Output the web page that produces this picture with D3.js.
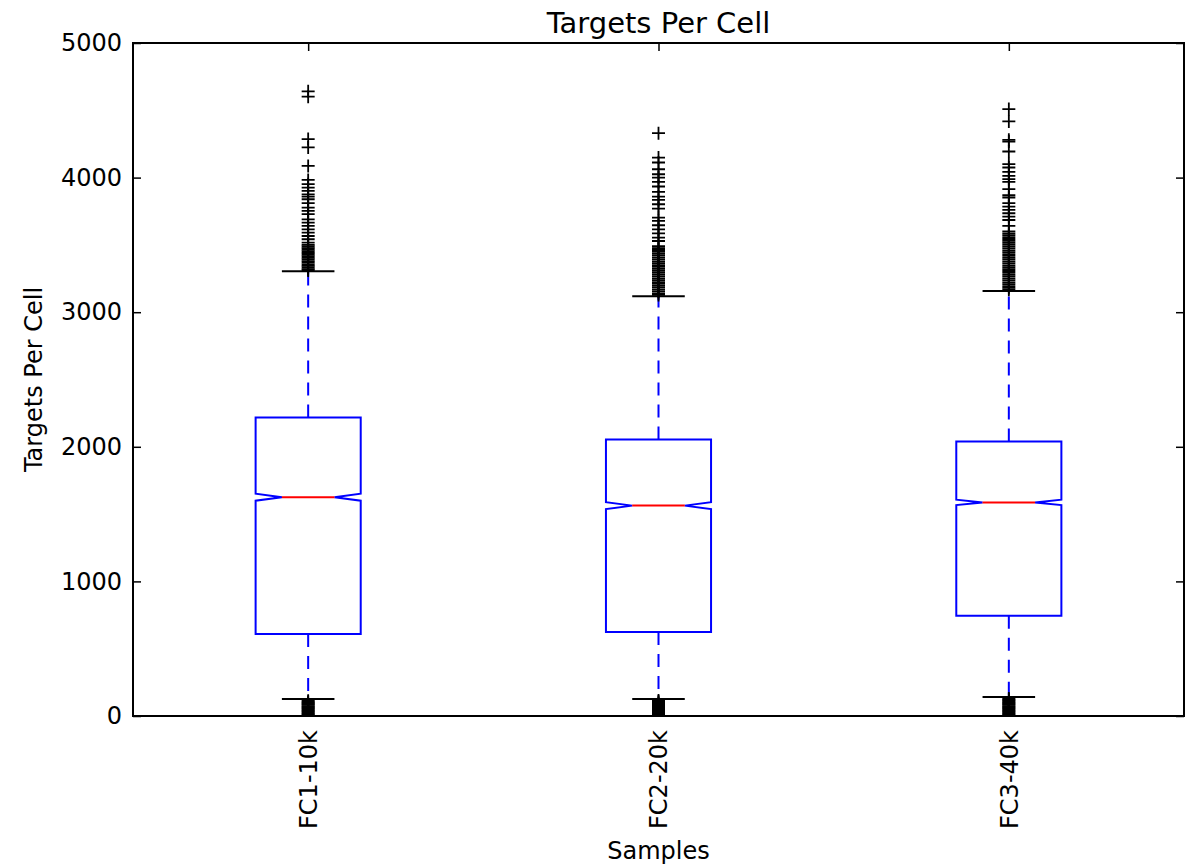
<!DOCTYPE html>
<html>
<head>
<meta charset="utf-8">
<script src="https://cdn.jsdelivr.net/npm/d3@7"></script>
<style>
  body { margin: 0; background: #fff; }
  text { font-family: "DejaVu Sans", sans-serif; fill: #000; }
</style>
</head>
<body>
<div id="chart"></div>
<script>
// samples on the x axis
var samples = ["FC1-10k", "FC2-20k", "FC3-40k"];

// box stats per sample
var whiskerLow = [126, 126, 141];
var q1 = [610, 625, 744];
var median = [1626, 1563, 1587];
var q3 = [2217, 2054, 2039];
var whiskerHigh = [3304, 3118, 3157];
var notchLow = [1600, 1537, 1567];
var notchHigh = [1652, 1589, 1607];

// fliers above the upper whisker
var fliersHigh = [
  [4641, 4601, 4286, 4224, 4087, 3983, 3951, 3926, 3901, 3876, 3859, 3839, 3810, 3777, 3753,
   3728, 3690, 3666, 3641, 3616, 3591, 3566, 3542, 3517, 3500, 3488, 3476, 3464, 3452, 3440,
   3428, 3416, 3404, 3392, 3380, 3368, 3356, 3344, 3332, 3320, 3310],
  [4330, 4149, 4112, 4062, 4025, 4000, 3968, 3934, 3894, 3859, 3834, 3802, 3770, 3703, 3678,
   3646, 3616, 3586, 3554, 3529, 3490, 3476, 3462, 3448, 3434, 3420, 3406, 3392, 3378, 3364,
   3350, 3336, 3322, 3308, 3294, 3280, 3266, 3252, 3238, 3224, 3210, 3196, 3182, 3168, 3154,
   3140, 3128],
  [4509, 4417, 4281, 4268, 4194, 4100, 4075, 4042, 4013, 3988, 3968, 3914, 3869, 3852, 3810,
   3785, 3760, 3735, 3710, 3685, 3641, 3600, 3586, 3572, 3558, 3544, 3530, 3516, 3502, 3488,
   3474, 3460, 3446, 3432, 3418, 3404, 3390, 3376, 3362, 3348, 3334, 3320, 3306, 3292, 3278,
   3264, 3250, 3236, 3222, 3208, 3194, 3180, 3167]
];

// fliers below the lower whisker
var fliersLow = [
  [2, 10, 18, 26, 34, 42, 50, 58, 66, 74, 82, 90, 98, 106, 114],
  [3, 11, 19, 27, 35, 43, 51, 59, 67, 75, 83, 91, 99, 107, 115],
  [2, 10, 18, 26, 34, 42, 50, 58, 66, 74, 82, 90, 98, 106, 114, 122, 130]
];

var yTicks = [0, 1000, 2000, 3000, 4000, 5000];

// svg container
var svgWidth = 1188;
var svgHeight = 868;

var margin = {
  top: 43,
  right: 4,
  bottom: 152,
  left: 133
};
var width = svgWidth - margin.left - margin.right;
var height = svgHeight - margin.top - margin.bottom;

var boxWidth = 0.3;
var blue = "#0000ff";

var svg = d3.select("#chart")
  .append("svg")
  .attr("width", svgWidth)
  .attr("height", svgHeight);

var chartGroup = svg.append("g")
  .attr("transform", `translate(${margin.left}, ${margin.top})`);

// clip to the axes area
svg.append("defs").append("clipPath")
  .attr("id", "plotclip")
  .append("rect")
  .attr("width", width)
  .attr("height", height);

// scales, positions 1..3 like matplotlib
var xScale = d3.scaleLinear()
  .domain([0.5, samples.length + 0.5])
  .range([0, width]);

var yScale = d3.scaleLinear()
  .domain([0, 5000])
  .range([height, 0]);

var rows = samples.map(function(name, i) {
  return {
    name: name,
    pos: i + 1,
    lo: whiskerLow[i],
    q1: q1[i],
    med: median[i],
    q3: q3[i],
    hi: whiskerHigh[i],
    nlo: notchLow[i],
    nhi: notchHigh[i]
  };
});

var plot = chartGroup.append("g")
  .attr("clip-path", "url(#plotclip)");

// whiskers (dashed)
rows.forEach(function(d) {
  plot.append("line")
    .attr("x1", xScale(d.pos)).attr("x2", xScale(d.pos))
    .attr("y1", yScale(d.q1)).attr("y2", yScale(d.lo))
    .attr("stroke", blue).attr("stroke-width", 2)
    .attr("stroke-dasharray", "13,9");
  plot.append("line")
    .attr("x1", xScale(d.pos)).attr("x2", xScale(d.pos))
    .attr("y1", yScale(d.q3)).attr("y2", yScale(d.hi))
    .attr("stroke", blue).attr("stroke-width", 2)
    .attr("stroke-dasharray", "13,9");
});

// notched boxes
plot.append("g")
  .selectAll("path")
  .data(rows)
  .enter()
  .append("path")
  .attr("d", function(d) {
    var l = xScale(d.pos - boxWidth / 2);
    var r = xScale(d.pos + boxWidth / 2);
    var cl = xScale(d.pos - boxWidth / 4);
    var cr = xScale(d.pos + boxWidth / 4);
    var pts = [
      [l, yScale(d.q1)], [r, yScale(d.q1)], [r, yScale(d.nlo)],
      [cr, yScale(d.med)], [r, yScale(d.nhi)], [r, yScale(d.q3)],
      [l, yScale(d.q3)], [l, yScale(d.nhi)], [cl, yScale(d.med)],
      [l, yScale(d.nlo)]
    ];
    return d3.line()(pts) + "Z";
  })
  .attr("fill", "none")
  .attr("stroke", blue)
  .attr("stroke-width", 2)
  .attr("stroke-linejoin", "miter");

// medians
plot.append("g")
  .selectAll("line")
  .data(rows)
  .enter()
  .append("line")
  .attr("x1", d => xScale(d.pos - boxWidth / 4))
  .attr("x2", d => xScale(d.pos + boxWidth / 4))
  .attr("y1", d => yScale(d.med))
  .attr("y2", d => yScale(d.med))
  .attr("stroke", "#ff0000")
  .attr("stroke-width", 2);

// caps
rows.forEach(function(d) {
  [d.lo, d.hi].forEach(function(v) {
    plot.append("line")
      .attr("x1", xScale(d.pos - boxWidth / 4))
      .attr("x2", xScale(d.pos + boxWidth / 4))
      .attr("y1", yScale(v)).attr("y2", yScale(v))
      .attr("stroke", "#000").attr("stroke-width", 2);
  });
});

// fliers as plus markers
var fliers = [];
rows.forEach(function(d, i) {
  fliersHigh[i].concat(fliersLow[i]).forEach(function(v) {
    fliers.push({ pos: d.pos, value: v });
  });
});
var m = 6.5;
plot.append("g")
  .selectAll("path")
  .data(fliers)
  .enter()
  .append("path")
  .attr("d", function(d) {
    var x = xScale(d.pos), y = yScale(d.value);
    return `M${x - m},${y}H${x + m}M${x},${y - m}V${y + m}`;
  })
  .attr("stroke", "#000")
  .attr("stroke-width", 1.8)
  .attr("fill", "none");

// y axis, ticks pointing inward
var leftAxis = d3.axisLeft(yScale)
  .tickValues(yTicks)
  .tickSize(-8)
  .tickPadding(11)
  .tickFormat(d3.format("d"));
var yAxisG = chartGroup.append("g").call(leftAxis);
yAxisG.select(".domain").remove();
yAxisG.selectAll("line").attr("stroke", "#000").attr("stroke-width", 1.5);
yAxisG.selectAll("text")
  .attr("font-size", "24px")
  .attr("font-family", "DejaVu Sans, sans-serif");

var rightAxis = d3.axisRight(yScale)
  .tickValues(yTicks)
  .tickSize(-8)
  .tickFormat("");
var yRight = chartGroup.append("g")
  .attr("transform", `translate(${width}, 0)`)
  .call(rightAxis);
yRight.select(".domain").remove();
yRight.selectAll("line").attr("stroke", "#000").attr("stroke-width", 1.5);

// x axis with vertical labels
var bottomAxis = d3.axisBottom(xScale)
  .tickValues(rows.map(d => d.pos))
  .tickSize(-8)
  .tickFormat((d, i) => samples[i]);
var xAxisG = chartGroup.append("g")
  .attr("transform", `translate(0, ${height})`)
  .call(bottomAxis);
xAxisG.select(".domain").remove();
xAxisG.selectAll("line").attr("stroke", "#000").attr("stroke-width", 1.5);
xAxisG.selectAll("text")
  .attr("font-size", "24px")
  .attr("font-family", "DejaVu Sans, sans-serif")
  .attr("transform", "rotate(-90)")
  .attr("text-anchor", "end")
  .attr("x", -14)
  .attr("y", 0)
  .attr("dy", "0.35em");

var topAxis = d3.axisTop(xScale)
  .tickValues(rows.map(d => d.pos))
  .tickSize(-8)
  .tickFormat("");
var xTop = chartGroup.append("g").call(topAxis);
xTop.select(".domain").remove();
xTop.selectAll("line").attr("stroke", "#000").attr("stroke-width", 1.5);

// frame
chartGroup.append("rect")
  .attr("width", width)
  .attr("height", height)
  .attr("fill", "none")
  .attr("stroke", "#000")
  .attr("stroke-width", 2);

// title and axis labels
chartGroup.append("text")
  .attr("x", width / 2)
  .attr("y", -10)
  .attr("text-anchor", "middle")
  .attr("font-size", "29px")
  .text("Targets Per Cell");

svg.append("text")
  .attr("transform", `translate(42, ${margin.top + height / 2}) rotate(-90)`)
  .attr("text-anchor", "middle")
  .attr("font-size", "24px")
  .text("Targets Per Cell");

svg.append("text")
  .attr("x", margin.left + width / 2)
  .attr("y", 859)
  .attr("text-anchor", "middle")
  .attr("font-size", "24px")
  .text("Samples");
</script>
</body>
</html>
